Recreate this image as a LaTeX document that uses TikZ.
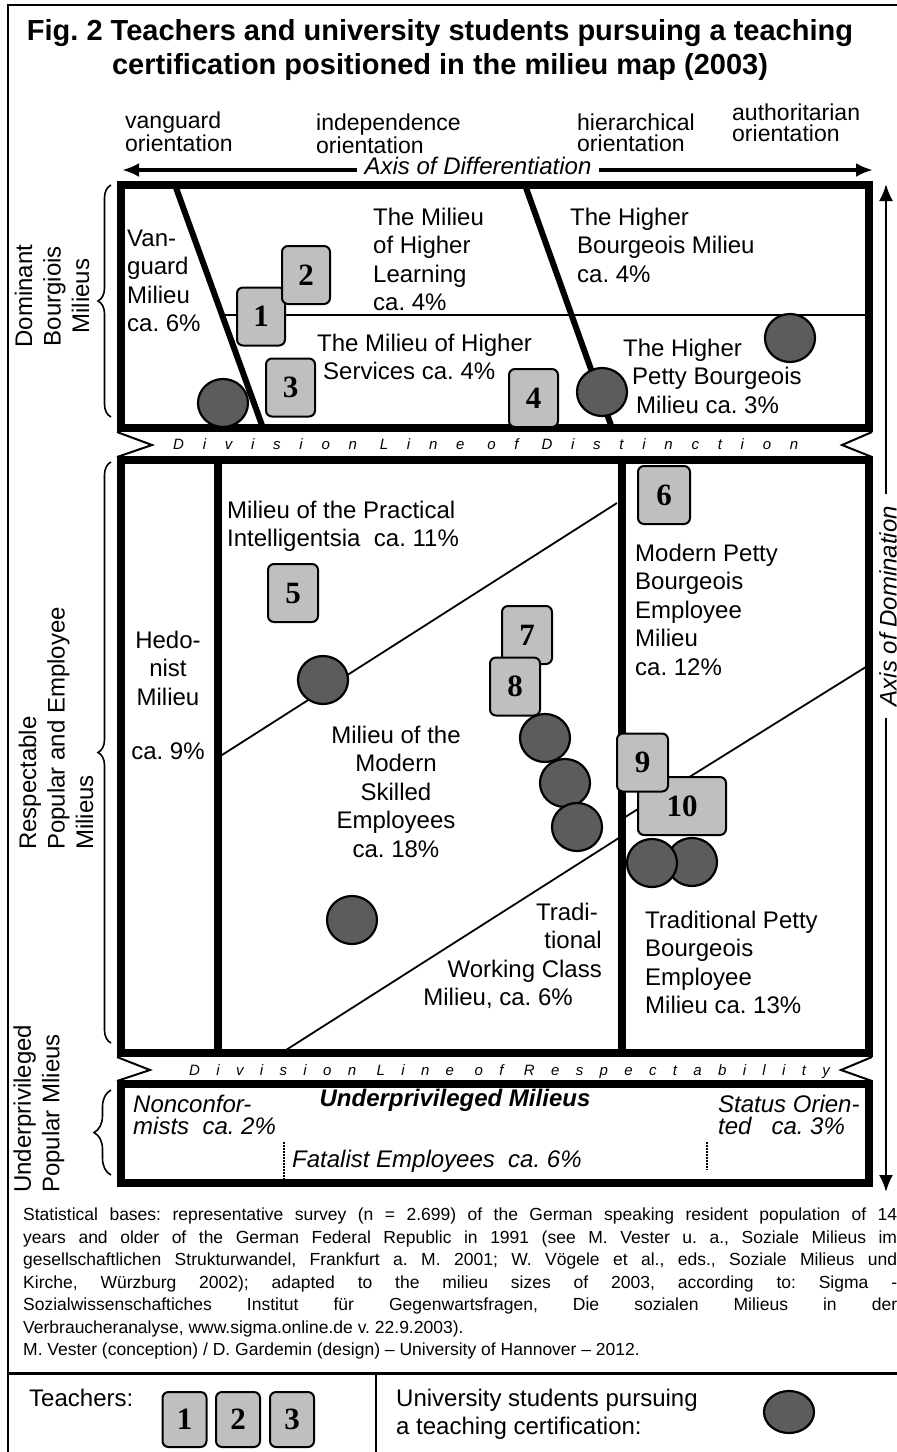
\documentclass[tikz,border=0pt]{standalone}
\usepackage{fontspec}
\setmainfont{Liberation Sans}
\newfontfamily\digitfont{Liberation Serif}
\usetikzlibrary{arrows.meta, shapes.geometric, decorations.pathreplacing}
\definecolor{teachergrey}{rgb}{0.75, 0.75, 0.75}
\definecolor{studentgrey}{rgb}{0.36, 0.36, 0.36}
\newcommand{\statLine}[1]{\makebox[874pt][s]{#1}}

\begin{document}
\frenchspacing
\begin{tikzpicture}[x=1pt, y=-1pt,
    labelText/.style={inner sep=0pt, font=\fontsize{24}{28.5}\selectfont},
    orientText/.style={inner sep=0pt, anchor=base west, align=left, font=\fontsize{23}{21}\selectfont},
    sideText/.style={inner sep=0pt, rotate=90, font=\fontsize{24}{28.5}\selectfont},
    fieldFrame/.style={line width=8pt},
    fieldSplit/.style={line width=1.8pt},
    borderSlant/.style={line width=6pt},
    tearMark/.style={line width=2pt},
    teacherBox/.style={draw, line width=2pt, rounded corners=6pt, fill=teachergrey,
        minimum width=48pt, minimum height=58pt, inner sep=0pt,
        font=\digitfont\bfseries\fontsize{31}{31}\selectfont},
    studentDot/.style={draw, ellipse, line width=2.2pt, fill=studentgrey,
        minimum width=50pt, minimum height=48pt, inner sep=0pt},
    groupBrace/.style={decorate, decoration={brace, amplitude=#1}, line width=1.6pt},
    axisArrow/.style={arrows={{Latex[length=17pt, width=14pt]}-{Latex[length=17pt, width=14pt]}}},
    spacedText/.style={inner sep=0pt, anchor=base west,
        font={\itshape\fontsize{15}{15}\selectfont\addfontfeature{LetterSpace=#1}}}
]
    \def\mapL{120.5}
    \def\mapR{869}
    \useasboundingbox (0,0) rectangle (897,1452);
    % outer frame and legend rules
    \draw[line width=2pt] (8,5) rectangle (899,1455);
    \draw[line width=3pt] (8,1373) -- (897,1373);
    \draw[line width=2.5pt] (376,1373) -- (376,1452);

    % base anchors of multi-line nodes sit on the last line
    \node[inner sep=0pt, anchor=base, align=center, font=\bfseries\fontsize{29}{34}\selectfont] (title) at (440,74)
        {Fig. 2 Teachers and university students pursuing a teaching\\certification positioned in the milieu map (2003)};

    % orientations along the top
    \node[orientText] (vanguardOr) at (125,151) {vanguard\\orientation};
    \node[orientText] (independenceOr) at (316,153) {independence\\orientation};
    \node[orientText] (hierarchicalOr) at (577,151) {hierarchical\\orientation};
    \node[orientText] (authoritarianOr) at (732,141) {authoritarian\\orientation};

    \coordinate (diffW) at (122,170);
    \coordinate (diffE) at (873,170);
    \draw[axisArrow, line width=4pt] (diffW) -- (diffE);
    \node[fill=white, inner xsep=8pt, inner ysep=1pt, font=\itshape\fontsize{24}{24}\selectfont] (diffLabel) at (478,166) {Axis of Differentiation};

    \coordinate (domN) at (886,184);
    \coordinate (domS) at (886,1192);
    \draw[axisArrow, line width=2.4pt] (domN) -- (domS);
    \node[rotate=90, fill=white, inner xsep=12pt, inner ysep=1pt, font=\itshape\fontsize{24}{24}\selectfont] (domLabel) at (888,606) {Axis of Domination};

    % thin lines between milieus
    \draw[fieldSplit] (222,315) -- (\mapR,315);
    \draw[fieldSplit] (222,755) -- (617,503);
    \draw[fieldSplit] (286,1050) -- (622,836);
    \draw[fieldSplit] (622,819) -- (\mapR,665);

    % the three fields
    \draw[fieldFrame] (\mapL,185) rectangle (\mapR,428);
    \draw[fieldFrame] (\mapL,460) rectangle (\mapR,1053);
    \draw[fieldFrame] (\mapL,1084) rectangle (\mapR,1183);
    \draw[borderSlant] (175,185) -- (263,428);
    \draw[borderSlant] (525,185) -- (612,428);
    \draw[fieldFrame] (218,460) -- (218,1053);
    \draw[fieldFrame] (622,460) -- (622,1053);
    \draw[densely dotted, line width=2pt] (284,1142) -- (284,1180);
    \draw[densely dotted, line width=2pt] (707,1142) -- (707,1170);

    % division lines
    \draw[tearMark] (117,432) -- (152,445) -- (117,457);
    \draw[tearMark] (872,432) -- (842,445) -- (872,457);
    \draw[tearMark] (117,1057) -- (150,1070) -- (117,1081);
    \draw[tearMark] (872,1057) -- (841,1070) -- (872,1081);
    \node[spacedText=125] (distinction) at (173,449) {Division Line of Distinction};
    \node[spacedText=109] (respectability) at (189,1075) {Division Line of Respectability};

    % groups on the left
    \draw[groupBrace=13pt] (111,417) -- (111,185);
    \draw[groupBrace=13pt] (111,1043) -- (111,462);
    \draw[groupBrace=17pt] (111,1175) -- (111,1090);
    \node[sideText, align=center] (dominantGrp) at (52,296) {Dominant\\Bourgiois\\Milieus};
    \node[sideText, align=left, anchor=west] (respectGrp) at (56,850) {Respectable\\Popular and Employee\\Milieus};
    \node[sideText, align=left, anchor=west] (underGrp) at (39,1193) {Underprivileged\\Popular Mlieus};

    % milieu names
    \node[labelText, anchor=base west, align=left] (vanguard) at (127,331.5) {Van-\\guard\\Milieu\\ca. 6\%};
    \node[labelText, anchor=base west, align=left] (learning) at (373,310.5) {The Milieu\\of Higher\\Learning\\ca. 4\%};
    \node[labelText, anchor=base west, align=left] (services) at (317,379.5) {The Milieu of Higher\\\hspace*{6pt}Services ca. 4\%};
    \node[labelText, anchor=base west, align=left] (higherBourg) at (570,282) {The Higher\\\hspace*{7pt}Bourgeois Milieu\\\hspace*{7pt}ca. 4\%};
    \node[labelText, anchor=base west, align=left] (higherPetty) at (623,413) {The Higher\\\hspace*{9pt}Petty Bourgeois\\\hspace*{13pt}Milieu ca. 3\%};
    \node[labelText, anchor=base, align=center] (hedonist) at (168,759.5) {Hedo-\\nist\\Milieu\\[26pt]ca. 9\%};
    \node[labelText, anchor=base west, align=left] (practical) at (227,546.5) {Milieu of the Practical\\Intelligentsia\ \ ca. 11\%};
    \node[labelText, anchor=base, align=center] (skilled) at (396,857) {Milieu of the\\Modern\\Skilled\\Employees\\ca. 18\%};
    \node[labelText, anchor=base west, align=left] (modernPetty) at (635,675) {Modern Petty\\Bourgeois\\Employee\\Milieu\\ca. 12\%};
    \node[labelText, anchor=base east, align=right] (working) at (602,1005.5) {Tradi-\hspace*{4pt}\\tional\hspace*{22pt}\\Working Class\\Milieu, ca. 6\%\hspace*{29pt}};
    \node[labelText, anchor=base west, align=left] (tradPetty) at (645,1013.5) {Traditional Petty\\Bourgeois\\Employee\\Milieu ca. 13\%};
    \node[labelText, anchor=base west, align=left, font=\itshape\fontsize{24}{22}\selectfont] (nonconf) at (133,1134) {Nonconfor-\\mists\ \ ca. 2\%};
    \node[labelText, anchor=base, font=\bfseries\itshape\fontsize{24}{24}\selectfont] (underprivileged) at (455,1106) {Underprivileged Milieus};
    \node[labelText, anchor=base west, align=left, font=\itshape\fontsize{24}{22}\selectfont] (statusOr) at (718,1134) {Status Orien-\\ted\ \ \ ca. 3\%};
    \node[labelText, anchor=base west, font=\itshape\fontsize{24}{24}\selectfont] (fatalist) at (292,1167) {Fatalist Employees\ \ ca. 6\%};

    % teachers
    \foreach \k/\x/\y/\w in {1/261/316.5/48, 2/306/275/48, 3/290.5/387.5/49, 4/533.5/398/49, 5/293/593/50,
                             6/664/495/52, 7/527/635/50, 8/515/686.5/50, 10/682/806/88, 9/642.5/762.5/51}
        \node[teacherBox, minimum width=\w pt] (t\k) at (\x,\y) {\k};
    % students
    \foreach \k/\x/\y in {1/223/403, 2/602/392, 3/790/338, 4/323/680, 5/545/738, 6/565/783,
                          7/577/827, 8/352/920, 9/692/862, 10/652/863}
        \node[studentDot] (s\k) at (\x,\y) {};

    \node[inner sep=0pt, anchor=north west, align=left, font=\fontsize{17.5}{22.5}\selectfont] (stats) at (23,1208) {%
        \statLine{Statistical bases: representative survey (n = 2.699) of the German speaking resident population of 14}\\
        \statLine{years and older of the German Federal Republic in 1991 (see M. Vester u. a., Soziale Milieus im}\\
        \statLine{gesellschaftlichen Strukturwandel, Frankfurt a. M. 2001; W. Vögele et al., eds., Soziale Milieus und}\\
        \statLine{Kirche, Würzburg 2002); adapted to the milieu sizes of 2003, according to: Sigma -}\\
        \statLine{Sozialwissenschaftiches Institut für Gegenwartsfragen, Die sozialen Milieus in der}\\
        Verbraucheranalyse, www.sigma.online.de v. 22.9.2003).\\
        M. Vester (conception) / D. Gardemin (design) -- University of Hannover -- 2012.};

    % legend
    \node[labelText, anchor=base west] (teachKey) at (29,1406) {Teachers:};
    \foreach \k/\x in {1/184.5, 2/238, 3/292}
        \node[teacherBox, minimum width=44pt, minimum height=55pt] (key\k) at (\x,1419.5) {\k};
    \node[labelText, anchor=base west, align=left] (studKey) at (396,1434.5) {University students pursuing\\a teaching certification:};
    \node[studentDot, minimum width=50pt, minimum height=42pt] (keyDot) at (789,1412) {};
\end{tikzpicture}
\end{document}
